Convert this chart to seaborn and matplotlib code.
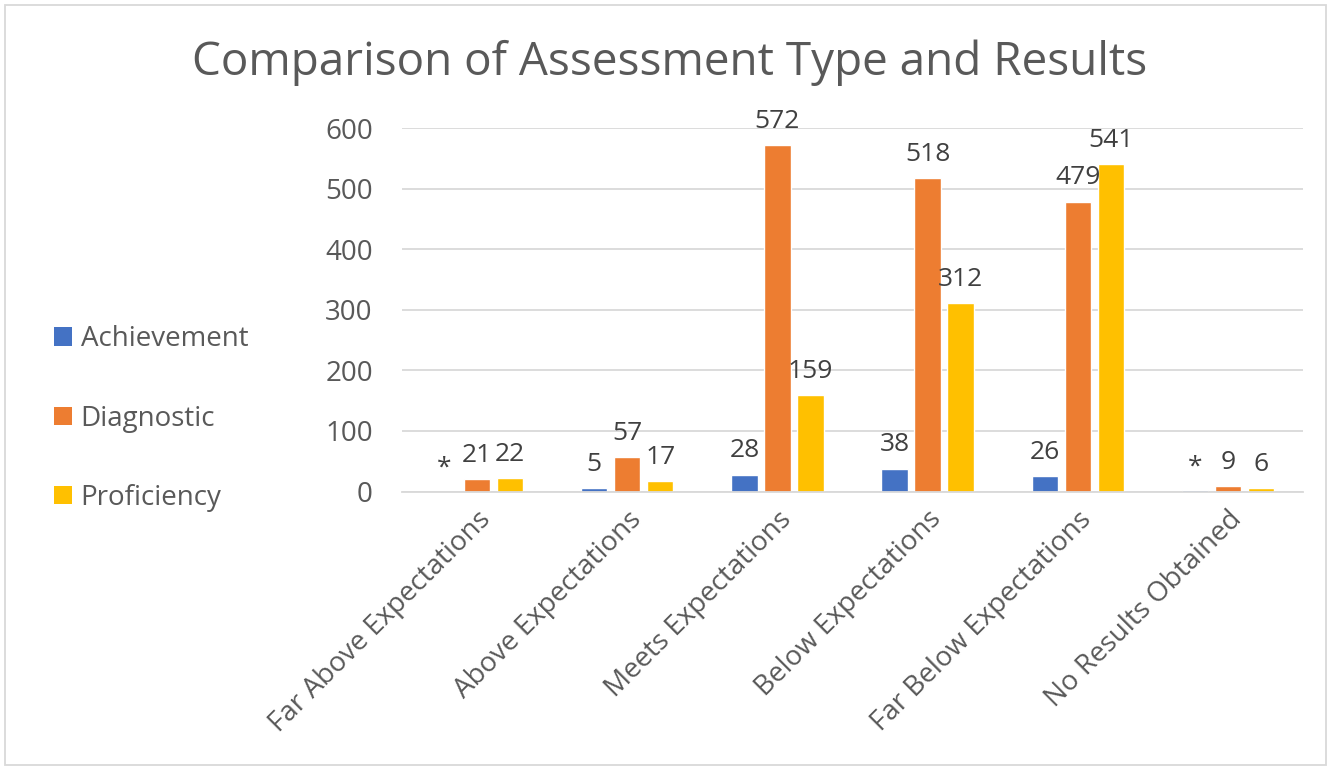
import matplotlib.pyplot as plt
from matplotlib.patches import Rectangle, Patch
import seaborn as sns
import pandas as pd

# chart data
results = ['Far Above Expectations', 'Above Expectations', 'Meets Expectations',
           'Below Expectations', 'Far Below Expectations', 'No Results Obtained']
assessment_types = ['Achievement', 'Diagnostic', 'Proficiency']
achievement = [0, 5, 28, 38, 26, 2]
diagnostic = [21, 57, 572, 518, 479, 9]
proficiency = [22, 17, 159, 312, 541, 6]
# suppressed counts are shown as "*"
achievement_labels = ['*', '5', '28', '38', '26', '*']
diagnostic_labels = [str(v) for v in diagnostic]
proficiency_labels = [str(v) for v in proficiency]
y_ticks = [0, 100, 200, 300, 400, 500, 600]

colors = ['#4472C4', '#ED7D31', '#FFC000']
text_gray = '#595959'
label_gray = '#404040'

sns.set_theme(style="white")
plt.rcParams['font.family'] = ['Open Sans', 'DejaVu Sans']

df = pd.DataFrame({
    'Result': results * 3,
    'Type': [t for t in assessment_types for _ in results],
    'Count': achievement + diagnostic + proficiency,
})

fig = plt.figure(figsize=(13.31, 7.68), dpi=100)
ax = fig.add_axes([0.302, 0.360, 0.677, 0.473])

sns.barplot(data=df, x='Result', y='Count', hue='Type', hue_order=assessment_types,
            palette=colors, width=0.66, gap=0.2, ax=ax, legend=False, saturation=1)

ax.set_ylim(0, 600)
ax.set_yticks(y_ticks)
ax.yaxis.grid(True, color='#D9D9D9', linewidth=1.3)
ax.set_axisbelow(True)
for s in ['top', 'right', 'left']:
    ax.spines[s].set_visible(False)
ax.spines['bottom'].set_color('#D9D9D9')
ax.spines['bottom'].set_linewidth(1.3)
ax.set_xlabel('')
ax.set_ylabel('')
ax.tick_params(axis='y', labelsize=20, labelcolor=text_gray, length=0, pad=21)
ax.tick_params(axis='x', labelsize=20, labelcolor=text_gray, length=0, pad=10)
plt.setp(ax.get_xticklabels(), rotation=45, ha='right', va='top', rotation_mode='anchor')

for cont, labs in zip(ax.containers, [achievement_labels, diagnostic_labels, proficiency_labels]):
    ax.bar_label(cont, labels=labs, padding=8, fontsize=19, color=label_gray)

handles = [Patch(facecolor=c, edgecolor='none') for c in colors]
fig.legend(handles, assessment_types, loc='center left', bbox_to_anchor=(0.022, 0.455),
           frameon=False, fontsize=20, labelcolor=text_gray, handlelength=0.65,
           handleheight=0.65, handletextpad=0.3, labelspacing=1.85)

fig.text(0.503, 0.918, 'Comparison of Assessment Type and Results', ha='center', va='center',
         fontsize=33, color=text_gray)

fig.patches.append(Rectangle((0.004, 0.004), 0.992, 0.989, transform=fig.transFigure,
                             fill=False, edgecolor='#D9D9D9', linewidth=1.3))

fig.savefig('out.png', dpi=100)
